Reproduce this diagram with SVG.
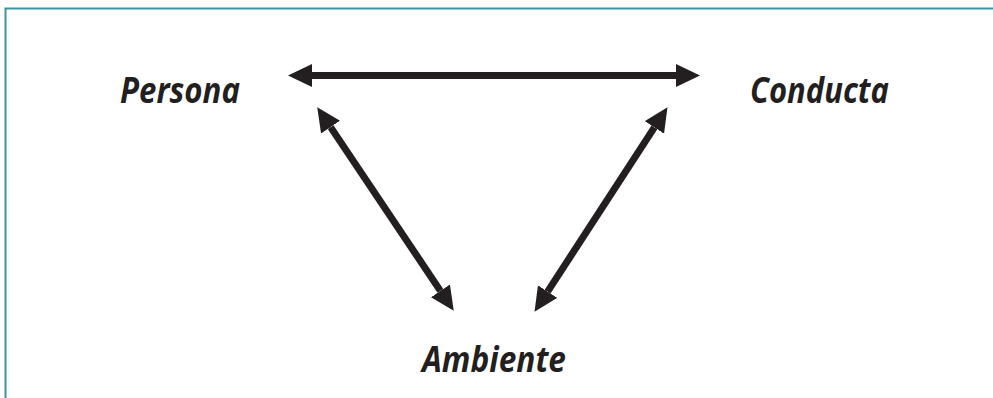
<svg xmlns="http://www.w3.org/2000/svg" width="993" height="398" viewBox="0 0 993 398">
  <style>
    .lbl { font-family: "Open Sans", "Noto Sans", "Liberation Sans", sans-serif; font-weight: bold; font-style: italic; font-size: 35px; fill: #231f20; }
    .conn { stroke: #231f20; stroke-width: 7; fill: none; }
  </style>
  <defs>
    <marker id="ah" markerUnits="userSpaceOnUse" markerWidth="24" markerHeight="24" viewBox="0 0 23 22" refX="0" refY="11" orient="auto-start-reverse">
      <path d="M0,0 L23,11 L0,22 Z" fill="#231f20"/>
    </marker>
  </defs>
  <rect width="993" height="398" fill="#ffffff"/>
  <path d="M5.5,398 V8.5 H993" fill="none" stroke="#3d93a3" stroke-width="2"/>
  <g id="connectors">
    <line class="conn" x1="312" y1="75.5" x2="676" y2="75.5" marker-start="url(#ah)" marker-end="url(#ah)"/>
    <line class="conn" x1="330.6" y1="127.1" x2="440.4" y2="290.9" marker-start="url(#ah)" marker-end="url(#ah)"/>
    <line class="conn" x1="654.4" y1="127.4" x2="547.6" y2="291.6" marker-start="url(#ah)" marker-end="url(#ah)"/>
  </g>
  <g id="persona"><text class="lbl" x="120" y="103" textLength="120" lengthAdjust="spacingAndGlyphs">Persona</text></g>
  <g id="conducta"><text class="lbl" x="750" y="103" textLength="139" lengthAdjust="spacingAndGlyphs">Conducta</text></g>
  <g id="ambiente"><text class="lbl" x="422" y="372" textLength="144" lengthAdjust="spacingAndGlyphs">Ambiente</text></g>
</svg>
